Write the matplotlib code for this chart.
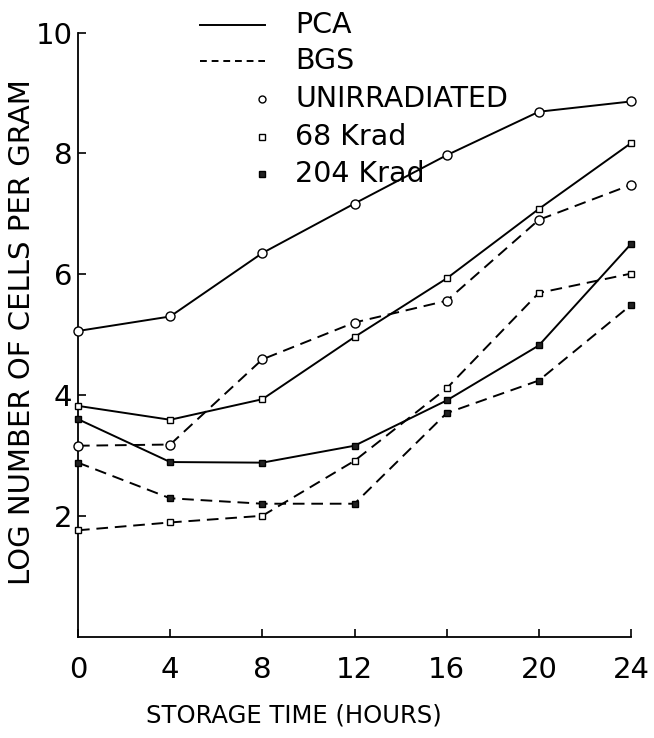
import matplotlib

matplotlib.use("Agg")
import matplotlib.pyplot as plt

plt.rcParams["font.family"] = ["DejaVu Sans"]

hours = [0, 4, 8, 12, 16, 20, 24]

# log number of cells per gram
pca_unirr = [5.06, 5.30, 6.35, 7.17, 7.97, 8.69, 8.86]
pca_68 = [3.82, 3.59, 3.93, 4.96, 5.93, 7.08, 8.17]
pca_204 = [3.60, 2.89, 2.88, 3.16, 3.91, 4.82, 6.50]
bgs_unirr = [3.16, 3.18, 4.59, 5.20, 5.56, 6.90, 7.48]
bgs_68 = [1.76, 1.89, 2.00, 2.91, 4.11, 5.69, 6.01]
bgs_204 = [2.88, 2.29, 2.20, 2.20, 3.70, 4.24, 5.49]

xticks = [0, 4, 8, 12, 16, 20, 24]
yticks = [2, 4, 6, 8, 10]
ytick_labels = ["2", "4", "6", "8", "10"]

legend_rows = ["PCA", "BGS", "UNIRRADIATED", "68 Krad", "204 Krad"]

fig = plt.figure(figsize=(6.54, 7.38), dpi=100)
ax = fig.add_axes([78 / 654, 1 - 636.6 / 738, 553 / 654, 604 / 738])

solid = dict(color="black", lw=1.4, ls="-")
dashed = dict(color="black", lw=1.4, ls=(0, (6, 3.5)))
circ = dict(marker="o", ms=6.5, mfc="white", mec="black", mew=1.0)
sq_open = dict(marker="s", ms=5, mfc="white", mec="black", mew=1.0)
sq_fill = dict(marker="s", ms=5, mfc="#222222", mec="black", mew=1.0)

ax.plot(hours, pca_unirr, **solid, **circ, clip_on=False, zorder=3)
ax.plot(hours, pca_68, **solid, **sq_open, clip_on=False, zorder=3)
ax.plot(hours, pca_204, **solid, **sq_fill, clip_on=False, zorder=3)
ax.plot(hours, bgs_unirr, **dashed, **circ, clip_on=False, zorder=3)
ax.plot(hours, bgs_68, **dashed, **sq_open, clip_on=False, zorder=3)
ax.plot(hours, bgs_204, **dashed, **sq_fill, clip_on=False, zorder=3)

ax.set_xlim(0, 24)
ax.set_ylim(0, 10)
ax.set_xticks(xticks)
ax.set_yticks(yticks)
ax.set_yticklabels(ytick_labels)
for side in ("top", "right"):
    ax.spines[side].set_visible(False)
for side in ("left", "bottom"):
    ax.spines[side].set_linewidth(1.3)
ax.tick_params(direction="in", length=6, width=1.2, labelsize=21)
ax.tick_params(axis="x", pad=14)
ax.tick_params(axis="y", pad=4)

ax.set_xlabel("STORAGE TIME (HOURS)", fontsize=17.5)
ax.xaxis.set_label_coords((294 - 78) / 553, -(715 - 636.6) / 604)
ax.set_ylabel("LOG NUMBER OF CELLS PER GRAM", fontsize=21)
ax.yaxis.set_label_coords(-(78 - 22) / 553, (636.6 - 332) / 604)
ax.xaxis.label.set_va("center")
ax.yaxis.label.set_va("center")

# hand-made legend above the data, partly outside the axes
ly = [1.013, 0.953, 0.890, 0.827, 0.766]
tx = (295 - 78) / 553
x0, x1 = (200 - 78) / 553, (265 - 78) / 553
xm = (262 - 78) / 553
ax.plot([x0, x1], [ly[0], ly[0]], transform=ax.transAxes, clip_on=False, **solid)
ax.plot([x0, x1], [ly[1], ly[1]], transform=ax.transAxes, clip_on=False,
        color="black", lw=1.4, ls=(0, (3.5, 2.5)))
ax.plot([xm], [ly[2]], transform=ax.transAxes, clip_on=False,
        marker="o", ms=5, mfc="white", mec="black", mew=1.0)
ax.plot([xm], [ly[3]], transform=ax.transAxes, clip_on=False,
        marker="s", ms=4.5, mfc="white", mec="black", mew=1.0)
ax.plot([xm], [ly[4]], transform=ax.transAxes, clip_on=False,
        marker="s", ms=4.5, mfc="#222222", mec="black", mew=1.0)
for y, label in zip(ly, legend_rows):
    ax.text(tx, y, label, transform=ax.transAxes, fontsize=20.5, va="center", ha="left")

fig.savefig("out.png", dpi=100)
